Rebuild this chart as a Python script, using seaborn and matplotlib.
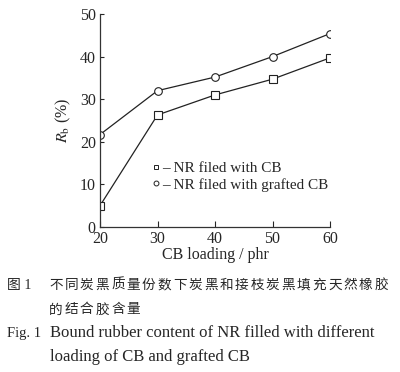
import numpy as np
import pandas as pd
import matplotlib
matplotlib.use("Agg")
import matplotlib.pyplot as plt
import seaborn as sns
from matplotlib.lines import Line2D

# 数据
loading = [20, 30, 40, 50, 60]
rb_cb = [5.0, 26.3, 31.0, 34.7, 39.7]
rb_grafted = [21.7, 32.0, 35.2, 40.0, 45.4]
series_names = ["NR filed with CB", "NR filed with grafted CB"]
xticks = [20, 30, 40, 50, 60]
yticks = [0, 10, 20, 30, 40, 50]

caption_cn = ["不同炭黑质量份数下炭黑和接枝炭黑填充天然橡胶", "的结合胶含量"]
caption_en = ["Bound rubber content of NR filled with different",
              "loading of CB and grafted CB"]

df = pd.DataFrame({
    "loading": loading * 2,
    "rb": rb_cb + rb_grafted,
    "series": [series_names[0]] * 5 + [series_names[1]] * 5,
})

sns.set_style("ticks")
plt.rcParams['font.family'] = ['Liberation Serif', 'Noto Sans CJK SC']
plt.rcParams['mathtext.fontset'] = 'stix'

W, H = 400, 372
fig = plt.figure(figsize=(W / 100, H / 100), dpi=100)
ax = fig.add_axes([100 / W, 1 - 227 / H, 230 / W, 213 / H])

sns.lineplot(data=df, x="loading", y="rb", style="series", hue="series",
             palette=["#222222", "#222222"], markers=["s", "o"], dashes=False,
             markersize=5.5, markerfacecolor="white", markeredgecolor="#222222",
             markeredgewidth=0.8, linewidth=0.9, legend=False, ax=ax)

ax.set_xlim(20, 60)
ax.set_ylim(0, 50)
ax.set_xticks(xticks)
ax.set_yticks(yticks)
sns.despine(ax=ax)
for s in ["left", "bottom"]:
    ax.spines[s].set_linewidth(0.9)
    ax.spines[s].set_color("#333333")
ax.tick_params(axis='x', direction='in', length=4, width=0.8, labelsize=11.5, pad=3)
ax.tick_params(axis='y', direction='in', length=3, width=0.8, labelsize=11.5, pad=3)
ax.set_xlabel("CB loading / phr", fontsize=11.5, labelpad=0)
ax.set_ylabel(r"$R_{\mathrm{b}}$ (%)", fontsize=11.5, labelpad=5)

handles = [Line2D([], [], linestyle='none', marker='s', markersize=3.5,
                  markerfacecolor='white', markeredgecolor='#222222', markeredgewidth=0.7),
           Line2D([], [], linestyle='none', marker='o', markersize=3.5,
                  markerfacecolor='white', markeredgecolor='#222222', markeredgewidth=0.7)]
ax.legend(handles, ["\u2013 " + n for n in series_names], loc='upper left',
          bbox_to_anchor=(0.19, 0.345), frameon=False, fontsize=11,
          handlelength=0.6, handletextpad=0.1, labelspacing=0.2, borderpad=0)

# 图题
fig.text(7 / W, 1 - 285 / H, "图 1", fontsize=10, va='center')
fig.text(7 / W, 1 - 333 / H, "Fig. 1", fontsize=10.5, va='center')
pitch = (390 - 49) / len(caption_cn[0])
for row, (line, y) in enumerate(zip(caption_cn, [285, 310])):
    for k, ch in enumerate(line):
        fig.text((49 + k * pitch) / W, 1 - y / H, ch, fontsize=9.8, va='center')
fig.text(50 / W, 1 - 333 / H, caption_en[0], fontsize=12, va='center')
fig.text(50 / W, 1 - 357 / H, caption_en[1], fontsize=12, va='center')

fig.savefig("out.png", dpi=100)
